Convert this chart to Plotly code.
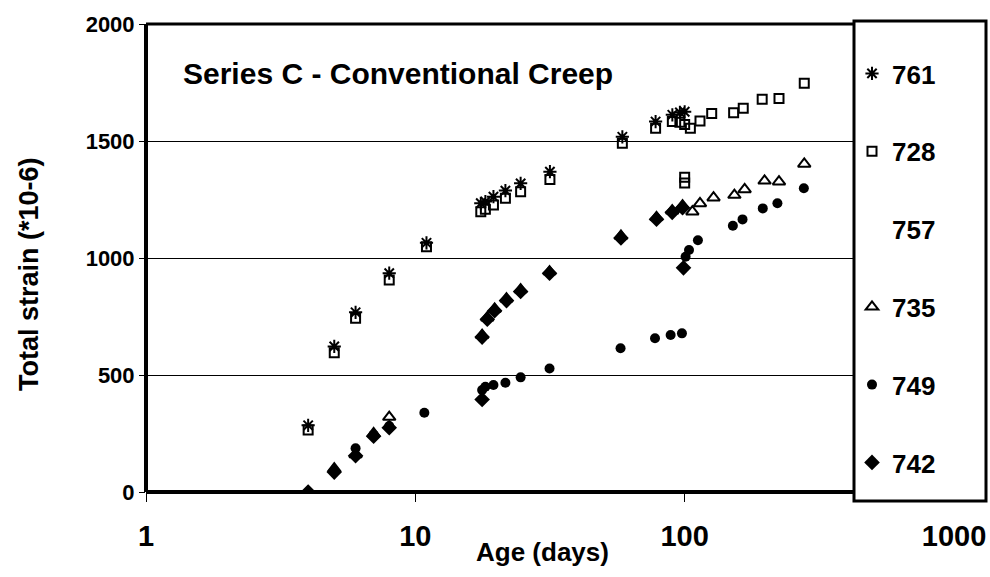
import plotly.graph_objects as go

# ---- data ----
age_761 = [4, 5, 6, 8, 11, 17.5, 18.2, 19.5, 21.6, 24.6, 31.6, 58.7, 78, 90, 96, 100]
strain_761 = [285, 622, 768, 935, 1065, 1234, 1241, 1262, 1288, 1319, 1369, 1518, 1583, 1612, 1622, 1625]

age_728 = [4, 5, 6, 8, 11, 17.5, 18.2, 19.5, 21.6, 24.6, 31.6, 58.7, 78, 90, 96, 100, 100, 100,
           105, 114, 126, 152, 165, 194, 224, 278]
strain_728 = [265, 595, 742, 906, 1048, 1198, 1208, 1227, 1255, 1283, 1336, 1490, 1554, 1583, 1580, 1570, 1345, 1320,
              1554, 1585, 1618, 1621, 1640, 1678, 1682, 1747]

age_757 = [None]
strain_757 = [None]

age_735 = [4, 5, 6, 7, 8, 17.7, 18.5, 19.7, 21.8, 24.6, 31.5, 58, 78.6, 89.9, 98.2,
           106.8, 114, 128, 153, 167, 198, 224, 278]
strain_735 = [0, 100, 160, 250, 320, 670, 745, 782, 826, 865, 942, 1094, 1174, 1202, 1224,
              1198, 1233, 1258, 1269, 1293, 1330, 1326, 1402]

age_749 = [5, 6, 7, 8, 10.8, 17.7, 18.2, 19.5, 21.6, 24.6, 31.5, 57.8, 77.6, 88.7, 97.7,
           100.8, 103.8, 112, 151, 164, 195, 221, 277]
strain_749 = [88, 187, 245, 282, 339, 436, 450, 457, 467, 490, 528, 614, 657, 671, 678,
              1005, 1034, 1076, 1138, 1165, 1212, 1234, 1298]

age_742 = [4, 5, 6, 7, 8, 17.7, 17.7, 18.5, 19.7, 21.8, 24.6, 31.5, 58, 78.6, 89.9, 98.2, 99]
strain_742 = [0, 85, 155, 238, 275, 395, 662, 738, 775, 818, 857, 935, 1086, 1166, 1195, 1215, 958]

x_tickvals = [1, 10, 100, 1000]
x_ticktext = ["1", "10", "100", "1000"]
y_tickvals = [0, 500, 1000, 1500, 2000]

FONT = "Liberation Sans, Arial, sans-serif"

fig = go.Figure()

series = [
    ("761", age_761, strain_761, dict(symbol="asterisk-open", size=11, color="black",
                                      line=dict(color="black", width=2))),
    ("728", age_728, strain_728, dict(symbol="square-open", size=9, color="black",
                                      line=dict(color="black", width=2))),
    ("757", age_757, strain_757, dict(symbol="circle", size=1, color="rgba(0,0,0,0)")),
    ("735", age_735, strain_735, dict(symbol="triangle-up-open", size=11, color="black",
                                      line=dict(color="black", width=2))),
    ("749", age_749, strain_749, dict(symbol="circle", size=10, color="black")),
    ("742", age_742, strain_742, dict(symbol="diamond", size=12, color="black")),
]
for i, (name, xs, ys, mk) in enumerate(series):
    fig.add_trace(go.Scatter(x=xs, y=ys, mode="markers", name=name, marker=mk,
                             legendgroup=f"g{i}", showlegend=True))

W, H = 990, 577
L, T = 146, 24
R = W - 954
B = H - 492
plot_w = W - L - R
plot_h = H - T - B


def px(xp):
    return (xp - L) / plot_w


def py(yp):
    return 1 - (yp - T) / plot_h


fig.update_layout(
    template="none",
    width=W, height=H,
    margin=dict(l=L, r=R, t=T, b=B, autoexpand=False),
    paper_bgcolor="white", plot_bgcolor="white",
    font=dict(family=FONT, color="black"),
    xaxis=dict(type="log", range=[0, 3], tickvals=x_tickvals, ticktext=x_ticktext,
               showgrid=False, zeroline=False, showline=False, automargin=False,
               ticks="outside", ticklen=9, tickwidth=1, tickcolor="black",
               ticklabelstandoff=9,
               tickfont=dict(family=FONT, size=29, color="black", weight="bold")),
    yaxis=dict(range=[0, 2000], tickvals=y_tickvals, showgrid=True, gridcolor="black",
               gridwidth=1, zeroline=False, showline=False, automargin=False,
               ticks="outside", ticklen=6, tickwidth=1, tickcolor="black",
               tickfont=dict(family=FONT, size=22, color="black", weight="bold")),
    showlegend=True,
    legend=dict(x=px(852), y=py(50), xanchor="left", yanchor="top",
                bgcolor="rgba(0,0,0,0)", borderwidth=0, tracegroupgap=41,
                font=dict(family=FONT, size=26, color="black", weight="bold"),
                traceorder="grouped"),
    shapes=[
        # legend box (covers the right part of the plot)
        dict(type="rect", xref="paper", yref="paper", x0=px(854), x1=px(986),
             y0=py(501), y1=py(21), fillcolor="white", line=dict(color="black", width=3),
             layer="above"),
        # frame top
        dict(type="line", xref="paper", yref="paper", x0=0, x1=px(855), y0=1, y1=1,
             line=dict(color="black", width=3), layer="above"),
        # frame left (y axis)
        dict(type="line", xref="paper", yref="paper", x0=0, x1=0, y0=0, y1=1,
             line=dict(color="black", width=4), layer="above"),
        # x axis line
        dict(type="line", xref="paper", yref="paper", x0=0, x1=px(855), y0=0, y1=0,
             line=dict(color="black", width=4), layer="above"),
    ],
    annotations=[
        dict(text="Series C - Conventional Creep", xref="paper", yref="paper",
             x=px(181), y=py(74), xanchor="left", yanchor="middle",
             showarrow=False, font=dict(family=FONT, size=30, color="black", weight="bold")),
        dict(text="Total strain (*10-6)", xref="paper", yref="paper",
             x=px(29), y=py(274), xanchor="center", yanchor="middle",
             textangle=-90, showarrow=False,
             font=dict(family=FONT, size=27, color="black", weight="bold")),
        dict(text="Age (days)", xref="paper", yref="paper",
             x=px(542), y=py(552), xanchor="center", yanchor="middle",
             showarrow=False, font=dict(family=FONT, size=26, color="black", weight="bold")),
    ],
)

fig.write_html(
    "out.html",
    config={"displayModeBar": False},
    post_script="document.body.style.margin='0';document.body.style.overflow='hidden';",
)
